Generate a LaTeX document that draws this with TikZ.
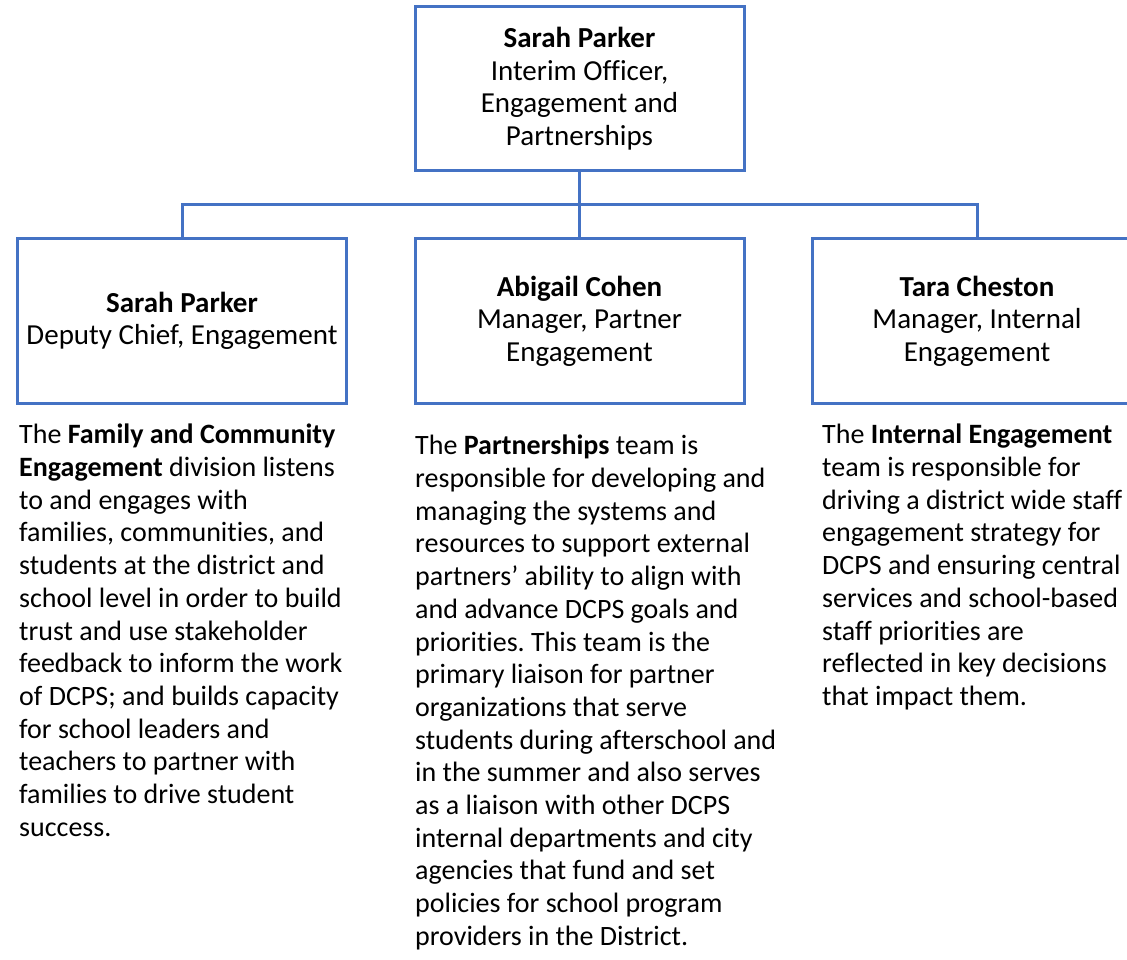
\documentclass[tikz,border=0pt]{standalone}
\usepackage{fontspec}
\setmainfont{Carlito}[Ligatures=NoCommon]
\definecolor{orgblue}{HTML}{4472C4}
\frenchspacing
\begin{document}
\begin{tikzpicture}[x=1pt,y=-1pt,
    box/.style={draw=orgblue,line width=3pt,minimum width=329pt,minimum height=164pt,align=center,inner sep=2pt,font=\fontsize{29}{32.5}\selectfont},
    desc/.style={anchor=north west,align=left,inner sep=0pt,font=\fontsize{28}{32.7}\selectfont},
    link/.style={draw=orgblue,line width=3pt}]
    \path[use as bounding box,clip] (0,0) rectangle (1127,960);
    % boxes
    \node[box] (chief) at (579.5,88.5) {\textbf{Sarah Parker}\\Interim Officer,\\Engagement and\\Partnerships};
    \node[box] (deputy) at (182,321) {\textbf{Sarah Parker}\\Deputy Chief, Engagement};
    \node[box] (partner) at (579.5,321) {\textbf{Abigail Cohen}\\Manager, Partner\\Engagement};
    \node[box] (internal) at (977,321) {\textbf{Tara Cheston}\\Manager, Internal\\Engagement};
    % connectors
    \coordinate (split) at (579.5,205);
    \draw[link] (chief.south) -- (partner.north);
    \draw[link] (deputy.north) |- (split) -| (internal.north);
    % team descriptions
    \node[desc] (famtext) at (19,424) {The \textbf{Family and Community}\\
        \textbf{Engagement} division listens\\
        to and engages with\\
        families, communities, and\\
        students at the district and\\
        school level in order to build\\
        trust and use stakeholder\\
        feedback to inform the work\\
        of DCPS; and builds capacity\\
        for school leaders and\\
        teachers to partner with\\
        families to drive student\\
        success.};
    \node[desc] (parttext) at (415,435) {The \textbf{Partnerships} team is\\
        responsible for developing and\\
        managing the systems and\\
        resources to support external\\
        partners’ ability to align with\\
        and advance DCPS goals and\\
        priorities. This team is the\\
        primary liaison for partner\\
        organizations that serve\\
        students during afterschool and\\
        in the summer and also serves\\
        as a liaison with other DCPS\\
        internal departments and city\\
        agencies that fund and set\\
        policies for school program\\
        providers in the District.};
    \node[desc] (inttext) at (822,424) {The \textbf{Internal Engagement}\\
        team is responsible for\\
        driving a district wide staff\\
        engagement strategy for\\
        DCPS and ensuring central\\
        services and school-based\\
        staff priorities are\\
        reflected in key decisions\\
        that impact them.};
\end{tikzpicture}
\end{document}
